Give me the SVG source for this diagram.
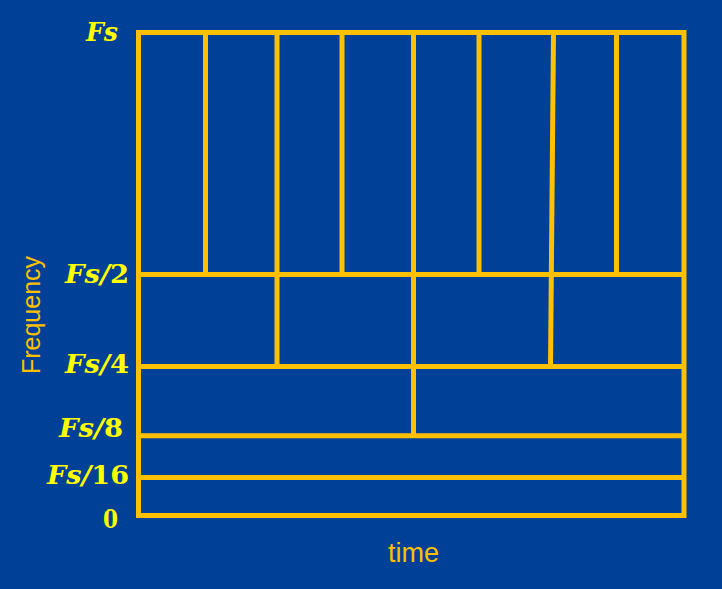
<svg xmlns="http://www.w3.org/2000/svg" width="722" height="589" viewBox="0 0 722 589">
<style>
.ln{stroke:#FFC000;stroke-width:5;fill:none}
.lb{font-family:"DejaVu Serif","Liberation Serif",serif;font-weight:bold;font-style:italic;font-size:26px;fill:#FFFF00}
.n{font-style:normal}
.ax{font-family:"Liberation Sans",Arial,sans-serif;fill:#FFC000}
</style>
<rect width="722" height="589" fill="#004097"/>
<g id="connectors">
<rect class="ln" x="138.5" y="32.5" width="545.5" height="483"/>
<line class="ln" x1="136" y1="274.5" x2="686" y2="274.5"/>
<line class="ln" x1="136" y1="366.5" x2="686" y2="366.5"/>
<line class="ln" x1="136" y1="435.7" x2="686" y2="435.7"/>
<line class="ln" x1="136" y1="477.5" x2="686" y2="477.5"/>
<line class="ln" x1="205.5" y1="32.5" x2="205.5" y2="274.5"/>
<line class="ln" x1="277" y1="32.5" x2="277" y2="366.5"/>
<line class="ln" x1="342" y1="32.5" x2="342" y2="274.5"/>
<line class="ln" x1="413.5" y1="32.5" x2="413.5" y2="435.7"/>
<line class="ln" x1="479" y1="32.5" x2="479" y2="274.5"/>
<line class="ln" x1="553.5" y1="32.5" x2="550.5" y2="366.5"/>
<line class="ln" x1="616.5" y1="32.5" x2="616.5" y2="274.5"/>
</g>
<g id="labels">
<text class="lb" x="86" y="41" textLength="32" lengthAdjust="spacingAndGlyphs">Fs</text>
<text class="lb" x="65" y="283" textLength="64" lengthAdjust="spacingAndGlyphs">Fs/<tspan class="n">2</tspan></text>
<text class="lb" x="65" y="373" textLength="64" lengthAdjust="spacingAndGlyphs">Fs/<tspan class="n">4</tspan></text>
<text class="lb" x="59" y="437" textLength="64" lengthAdjust="spacingAndGlyphs">Fs/<tspan class="n">8</tspan></text>
<text class="lb" x="47" y="484" textLength="82" lengthAdjust="spacingAndGlyphs">Fs/<tspan class="n">16</tspan></text>
<text class="lb" x="103" y="528" textLength="15" lengthAdjust="spacingAndGlyphs"><tspan class="n">0</tspan></text>
<text class="ax" x="0" y="0" font-size="25" text-anchor="middle" transform="translate(40,315) rotate(-90)">Frequency</text>
<text class="ax" x="413.5" y="562" font-size="27" text-anchor="middle">time</text>
</g>
</svg>
